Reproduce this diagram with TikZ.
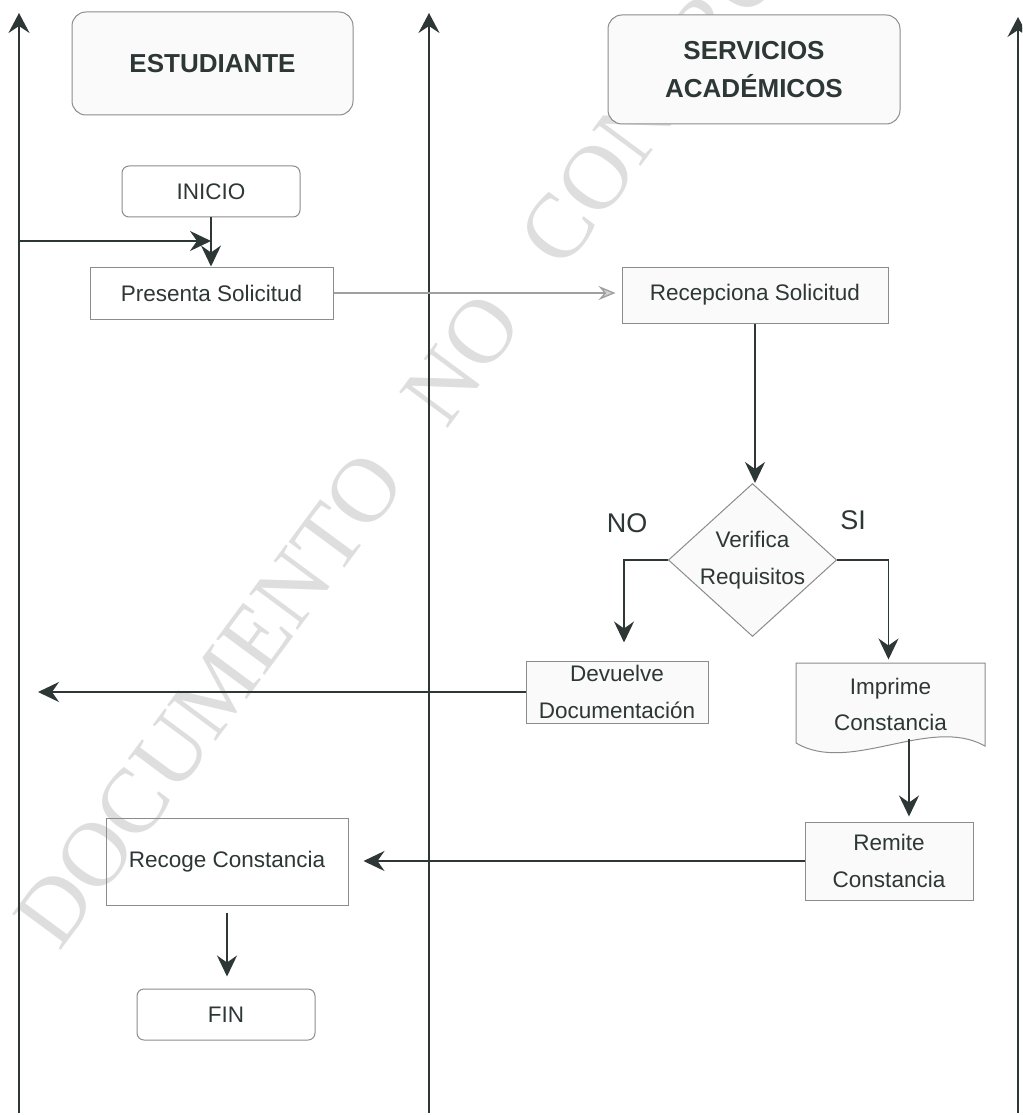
\documentclass[tikz,border=0pt]{standalone}
\usepackage{fontspec}
\setmainfont{Liberation Sans}
\newfontfamily\wmfont{Liberation Serif}
\usetikzlibrary{arrows.meta,shapes.geometric,calc}

\definecolor{ink}{RGB}{45,55,53}
\definecolor{edge}{RGB}{140,140,140}
\definecolor{wmark}{RGB}{222,222,222}

\begin{document}
\begin{tikzpicture}[x=1pt,y=-1pt,
  lane/.style={draw=ink, line width=2.2pt, -{Stealth[length=20pt,width=21pt,inset=7pt]}},
  flow/.style={draw=ink, line width=1.8pt, -{Stealth[length=21pt,width=20pt,inset=7pt]}},
  gflow/.style={draw=gray!75, line width=1.3pt, -{Stealth[length=17pt,width=14pt,inset=6pt,fill=gray!35]}},
  box/.style={draw=edge, line width=1pt, rectangle, inner sep=0pt, align=center,
    text=ink, font=\fontsize{22.5}{36.5}\selectfont},
  shaded/.style={fill=gray!4},
  roundbox/.style={box, rounded corners=7pt},
  head/.style={box, shaded, rounded corners=14pt, font=\fontsize{26}{38}\selectfont\bfseries},
  lbl/.style={inner sep=0pt, text=ink, font=\fontsize{27}{30}\selectfont}]

\useasboundingbox (0,0) rectangle (1022,1115);
\clip (0,0) rectangle (1022,1115);

% watermark behind everything
\node[rotate=53.5, anchor=base west, inner sep=0pt, text=wmark,
  font=\fontsize{92}{92}\selectfont\wmfont] (wm) at (59.4,953)
  {DOCUMENTO\hspace{0.7em}NO\hspace{0.7em}CONTROLADO};

% swimlane separators
\coordinate (l1b) at (19,1113);   \coordinate (l1t) at (19,13);
\coordinate (l2b) at (429,1113);  \coordinate (l2t) at (429,13);
\coordinate (l3b) at (1018,1113); \coordinate (l3t) at (1018,17);
\draw[lane] (l1b) -- (l1t);
\draw[lane] (l2b) -- (l2t);
\draw[lane] (l3b) -- (l3t);

% lane headers
\node[head, minimum width=281pt, minimum height=103pt] (hest) at (212.5,63.5) {ESTUDIANTE};
\node[head, minimum width=292pt, minimum height=109pt] (hser) at (754,69.5) {SERVICIOS\\ACADÉMICOS};

% student lane
\node[roundbox, minimum width=178pt, minimum height=51pt] (inicio) at (211,191.5) {INICIO};
\node[box, minimum width=243pt, minimum height=52pt] (presenta) at (211.5,293) {Presenta Solicitud};
\node[box, minimum width=242pt, minimum height=87pt] (recoge) at (227,861.5) {Recoge Constancia};
\node[roundbox, minimum width=178pt, minimum height=51pt] (fin) at (226,1014.5) {FIN};

% academic services lane
\node[box, shaded, minimum width=266pt, minimum height=56pt] (recep) at (755,295) {Recepciona Solicitud};
\node[box, shaded, diamond, aspect=1.1, minimum width=165pt, minimum height=150pt] (verif) at (752.5,560) {Verifica\\Requisitos};
\node[box, shaded, minimum width=182pt, minimum height=62pt] (devuelve) at (617,692) {Devuelve\\Documentación};

% document shape with wavy bottom edge
\fill[gray!4] (796,663) -- (985,663) -- (985,746)
  .. controls (930,715) and (850,775) .. (796,743) -- cycle;
\draw[edge, line width=1pt] (796,663) -- (985,663) -- (985,746)
  .. controls (930,715) and (850,775) .. (796,743) -- cycle;
\node[box, draw=none, minimum width=189pt, minimum height=83pt] (imprime) at (890.5,704.5) {Imprime\\Constancia};

\node[box, shaded, minimum width=168pt, minimum height=78pt] (remite) at (889,861) {Remite\\Constancia};

% decision labels
\node[lbl] (no) at (627,523) {NO};
\node[lbl] (si) at (853,520) {SI};

% connectors
\coordinate (jn) at (19,241);
\draw[flow] (inicio.south) -- (inicio.south |- presenta.north);
\draw[flow] (jn) -- (jn -| inicio.south);
\draw[gflow, shorten >=6pt] (presenta.east) -- (presenta.east -| recep.west);
\draw[flow] (recep.south) -- (recep.south |- verif.north);
\draw[flow, shorten >=18pt] (verif.west) -| ($(devuelve.north)+(7,0)$);
\draw[flow, shorten >=3pt] (verif.east) -| ($(imprime.north)+(-2,0)$);
\draw[flow, shorten >=5pt] ($(imprime.south)+(18.5,-8)$) -- ($(remite.north)+(20,0)$);
\coordinate (dvend) at (38,691);
\draw[flow] (devuelve.west) -- (devuelve.west -| dvend);
\draw[flow, shorten >=15pt] (remite.west) -- (remite.west -| recoge.east);
\draw[flow, shorten <=7pt, shorten >=12pt] (recoge.south) -- (recoge.south |- fin.north);

\end{tikzpicture}
\end{document}
